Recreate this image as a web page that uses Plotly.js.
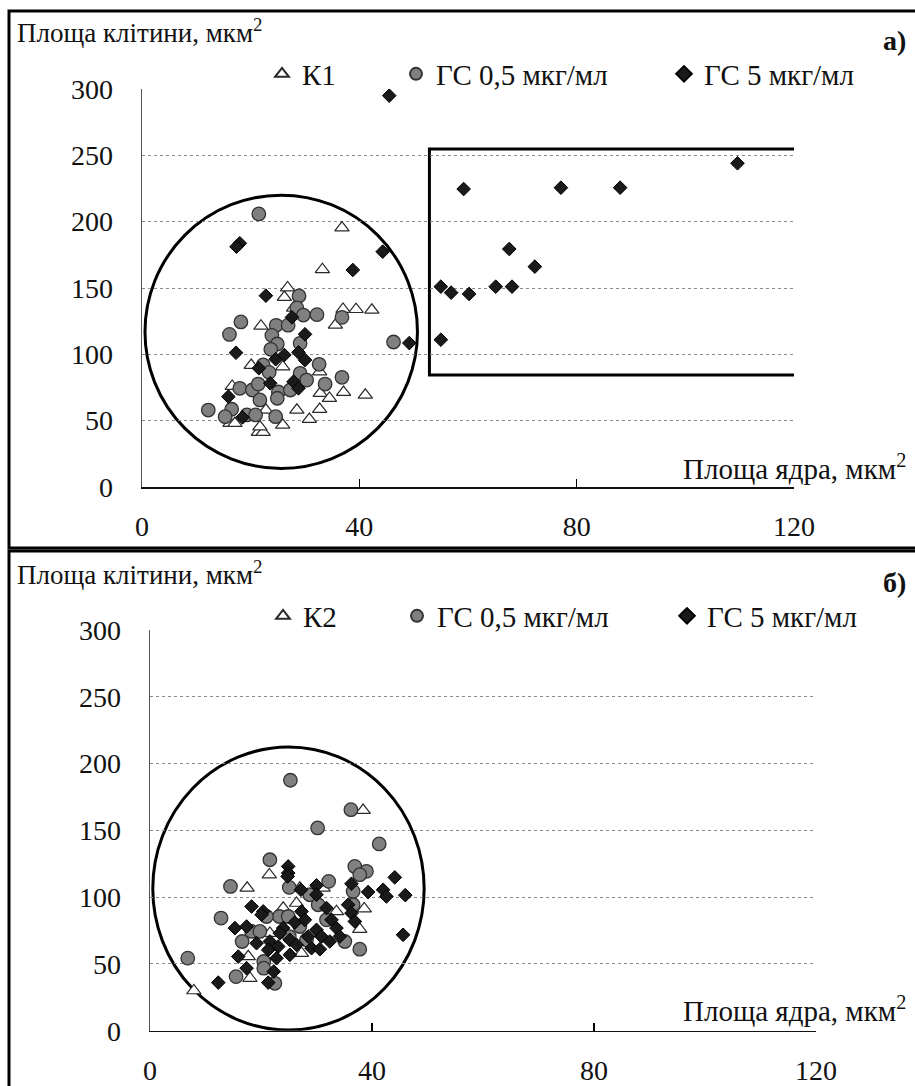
<!DOCTYPE html>
<html>
<head>
<meta charset="utf-8">
<script src="https://cdn.plot.ly/plotly-3.0.1.min.js"></script>
<style>
html,body{margin:0;padding:0;background:#fff;}
#chart{width:915px;height:1086px;}
</style>
</head>
<body>
<div id="chart"></div>
<script>
// ---------- Panel а) ----------
var k1X = [36.8,33.2,26.8,26.2,39.4,42.3,37.0,35.6,21.9,27.9,20.1,25.9,32.7,37.1,41.1,32.8,34.5,32.7,28.5,30.8,25.9,16.2,17.1,21.4,22.3,21.7,22.8,16.6];
var k1Y = [195.4,164,150.2,143,133.9,133.4,134,122.1,121.4,135,91.7,90.7,86.9,71.4,69.3,70.6,66.9,58.6,58,51,46.7,48,48,41.2,41.2,45.4,58,76];

var gs05aX = [21.5,28.9,28.5,29.7,32.2,36.8,18.2,16.1,24.7,26.9,23.9,24.9,23.7,29.1,46.3,22.3,23.4,32.6,29.1,30.3,33.7,36.8,18.0,20.3,21.4,25.1,27.3,21.7,24.9,12.2,16.5,15.3,19.3,20.9,24.6];
var gs05aY = [205.8,144,135,129.6,129.9,127.9,124.4,115,121.9,122,114.3,107.8,103.8,108.3,109.3,92,86.4,92.5,85.7,80.6,77.6,82.7,74.4,73.1,77.6,71.6,73.1,65.6,66.9,58,58.6,53,54.3,54.3,53];

var gs5aX = [45.5,18.0,17.4,44.3,38.8,22.8,27.6,30.0,17.3,24.6,26.2,28.8,30.0,21.5,23.6,27.9,28.8,15.9,18.5,49.2,55.0,55.0,59.2,77.1,88.0,109.6,67.6,72.3,56.9,60.2,65.1,68.1];
var gs5aY = [295,183.7,181.1,177.4,163.6,144.2,127.9,115.1,101.2,96.3,99.5,101.5,95.7,89.5,78.2,79.4,74.4,68.1,52.5,108.5,151,111,224.6,225.6,225.6,244,179.4,166.1,146.5,145.5,151,151];

// ---------- Panel б) ----------
var k2X = [38.4,21.5,17.5,27.0,31.2,24.0,26.4,33.6,38.6,37.8,21.6,27.3,17.7,18.0,7.9];
var k2Y = [165,116.8,106.8,106.8,106.8,91.8,95.5,89.3,91.3,76,73,58,55.5,39.3,30];

var gs05bX = [25.3,36.2,30.2,41.3,21.6,36.9,39.0,37.8,14.5,32.2,25.1,36.6,28.8,30.3,36.6,12.8,23.3,24.9,21.0,18.3,19.8,16.6,35.1,37.8,27.0,31.8,6.8,20.5,20.5,15.5,22.5,25.1,28.2];
var gs05bY = [187.5,165.5,151.8,139.8,128,123,119.3,116.8,108,111.8,107.3,104.3,101.8,94.3,94.3,84.3,85.5,85.5,85.5,74.3,74.3,66.8,66.8,61,78,83,54.3,51.8,46.8,40.5,35.5,70.5,68];

var gs5bX = [24.9,24.9,24.8,44.1,36.3,30.0,27.2,39.3,42.0,42.6,46.0,30.0,35.7,18.3,20.4,31.8,36.3,27.3,27.9,36.9,32.7,15.3,17.4,26.1,30.0,33.6,24.0,28.5,30.9,34.2,25.2,45.6,19.2,21.6,23.1,26.4,29.1,30.6,32.4,15.9,21.3,22.8,25.2,17.4,22.3,12.3,21.3,20.1,23.4];
var gs5bY = [123,118,115.5,114.8,110,108.8,105.5,103.8,105.5,100.5,101.5,101.8,94.3,93,89.3,91.8,88,89.3,83,81.8,83,76.8,78,81,75.5,76.8,76.8,70.5,70.5,70.5,68,71.8,65.5,66.8,63,64.3,61.8,61,66.8,55.5,60.5,54.3,56.8,46.8,44.3,36,36,86.8,73];

// ---------- Axes ticks / labels ----------
var xTicks = [0,40,80,120];
var yTicks = [0,50,100,150,200,250,300];
var legendNamesA = ['К1','ГС 0,5 мкг/мл','ГС 5 мкг/мл'];
var legendNamesB = ['К2','ГС 0,5 мкг/мл','ГС 5 мкг/мл'];
var yTitle = 'Площа клітини, мкм<sup>2</sup>';
var xTitle = 'Площа ядра, мкм<sup>2</sup>';
var panelLabels = ['<b>а)</b>','<b>б)</b>'];

var W = 915, H = 1086;
var FONT = '"Liberation Serif", "Times New Roman", Tinos, "DejaVu Serif", serif';
function px(x){return x/W;}
function py(y){return 1 - y/H;}

var triMarker = {symbol:'triangle-up', size:12.5, color:'#ffffff', line:{color:'#2a2a2a', width:1.2}};
var cirMarker = {symbol:'circle', size:13.5, color:'#808080', line:{color:'#333333', width:1.3}};
var diaMarker = {symbol:'diamond', size:10.5, color:'#1a1a1a', line:{color:'#000000', width:1}};

function tr(x,y,name,marker,xa,ya,leg){
  return {type:'scatter', mode:'markers', x:x, y:y, name:name, marker:marker,
          xaxis:xa, yaxis:ya, legend:leg, showlegend:true, hoverinfo:'x+y'};
}

var data = [
  tr(k1X,k1Y,legendNamesA[0],triMarker,'x','y','legend'),
  tr(gs05aX,gs05aY,legendNamesA[1],cirMarker,'x','y','legend2'),
  tr(gs5aX,gs5aY,legendNamesA[2],diaMarker,'x','y','legend3'),
  tr(k2X,k2Y,legendNamesB[0],triMarker,'x2','y2','legend4'),
  tr(gs05bX,gs05bY,legendNamesB[1],cirMarker,'x2','y2','legend5'),
  tr(gs5bX,gs5bY,legendNamesB[2],diaMarker,'x2','y2','legend6')
];

function xax(dom, anchor){
  return {domain:dom, anchor:anchor, range:[0,120], tickvals:xTicks, ticktext:xTicks.map(String),
    ticks:'inside', ticklen:8, tickwidth:1.2, tickcolor:'#000', showline:true, linecolor:'#111', linewidth:1.5,
    showgrid:false, zeroline:false, tickfont:{family:FONT, size:28, color:'#111'}, ticklabelstandoff:14, fixedrange:true};
}
function yax(dom, anchor){
  return {domain:dom, anchor:anchor, range:[0,300], tickvals:yTicks, ticktext:yTicks.map(String),
    ticks:'', showline:true, linecolor:'#555', linewidth:1.5, showgrid:true, gridcolor:'#8a8a8a', griddash:'dot', gridwidth:1,
    zeroline:false, tickfont:{family:FONT, size:28, color:'#111'}, ticklabelstandoff:22, fixedrange:true};
}

function leg(xp, yp){
  return {x:px(xp), y:py(yp), xanchor:'left', yanchor:'middle', orientation:'v', bgcolor:'rgba(0,0,0,0)',
    borderwidth:0, font:{family:FONT, size:29, color:'#111'}, itemsizing:'constant', tracegroupgap:0};
}

var layout = {
  width:W, height:H, margin:{l:0,r:0,t:0,b:0}, paper_bgcolor:'#fff', plot_bgcolor:'rgba(0,0,0,0)',
  font:{family:FONT, color:'#111'},
  xaxis: xax([px(142), px(794)], 'y'),
  yaxis: yax([py(487), py(89)], 'x'),
  xaxis2: xax([px(150), px(816)], 'y2'),
  yaxis2: yax([py(1030.7), py(630)], 'x2'),
  legend: leg(262, 74), legend2: leg(396, 74), legend3: leg(664, 74),
  legend4: leg(263, 616), legend5: leg(397, 616), legend6: leg(667, 616),
  shapes: [
    {type:'rect', xref:'paper', yref:'paper', x0:px(9), x1:1.02, y0:py(548), y1:py(11), line:{color:'#000', width:3}},
    {type:'rect', xref:'paper', yref:'paper', x0:px(9), x1:1.02, y0:-0.02, y1:py(551), line:{color:'#000', width:3}},
    {type:'circle', xref:'x', yref:'y', x0:0.55, x1:50.7, y0:14, y1:220, line:{color:'#000', width:3}, layer:'below'},
    {type:'rect', xref:'x', yref:'y', x0:52.9, x1:120.4, y0:84.4, y1:254.8, line:{color:'#000', width:3}, layer:'below'},
    {type:'circle', xref:'x2', yref:'y2', x0:0.5, x1:49.4, y0:0.5, y1:212.4, line:{color:'#000', width:3}, layer:'below'}
  ],
  annotations: [
    {xref:'paper', yref:'paper', x:px(15), y:py(31), xanchor:'left', yanchor:'middle', showarrow:false, text:yTitle, font:{family:FONT, size:27, color:'#111'}},
    {xref:'paper', yref:'paper', x:px(908), y:py(40), xanchor:'right', yanchor:'middle', showarrow:false, text:panelLabels[0], font:{family:FONT, size:28, color:'#111'}},
    {xref:'paper', yref:'paper', x:px(908), y:py(467), xanchor:'right', yanchor:'middle', showarrow:false, text:xTitle, font:{family:FONT, size:29, color:'#111'}},
    {xref:'paper', yref:'paper', x:px(15), y:py(573), xanchor:'left', yanchor:'middle', showarrow:false, text:yTitle, font:{family:FONT, size:27, color:'#111'}},
    {xref:'paper', yref:'paper', x:px(908), y:py(582), xanchor:'right', yanchor:'middle', showarrow:false, text:panelLabels[1], font:{family:FONT, size:28, color:'#111'}},
    {xref:'paper', yref:'paper', x:px(908), y:py(1009), xanchor:'right', yanchor:'middle', showarrow:false, text:xTitle, font:{family:FONT, size:29, color:'#111'}}
  ]
};

Plotly.newPlot('chart', data, layout, {staticPlot:true, displayModeBar:false});
</script>
</body>
</html>
